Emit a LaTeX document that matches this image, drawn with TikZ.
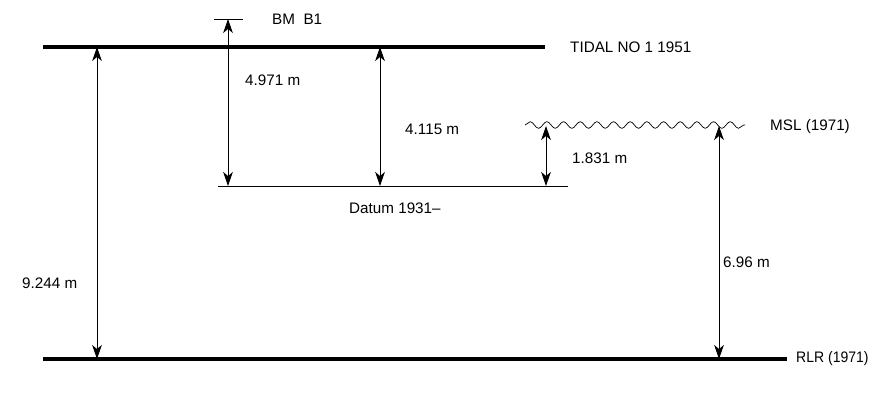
\documentclass[tikz,border=0pt]{standalone}
\usepackage{fontspec}
\setmainfont{Liberation Sans}
\usetikzlibrary{arrows.meta,positioning,calc,decorations.pathmorphing}

\begin{document}
\begin{tikzpicture}[x=0.03cm, y=-0.03cm, >={Stealth[length=4.2mm,width=2.9mm,inset=1.2mm]},
  level/.style={line width=2.6pt},
  thinlevel/.style={line width=0.7pt},
  dim/.style={<->, line width=0.7pt},
  lbl/.style={anchor=west, inner sep=0pt, font=\fontsize{13}{15}\selectfont}]
\useasboundingbox (0,0) rectangle (875,400);

% Levels
\coordinate (tidalL) at (43,47);
\coordinate (tidalR) at (545,47);
\draw[level] (tidalL) -- (tidalR);
\node[lbl] (tidal) at (570,47) {TIDAL NO 1 1951};

\coordinate (rlrL) at (43,359);
\coordinate (rlrR) at (787,359);
\draw[level] (rlrL) -- (rlrR);
\node[lbl, xscale=0.92] (rlr) at (796,359) {RLR (1971)};

\coordinate (datL) at (218,186);
\coordinate (datR) at (568,186);
\draw[thinlevel] (datL) -- (datR);
\node[lbl] (datum) at (349,208) {Datum 1931--};

\coordinate (mslL) at (525,125);
\coordinate (mslR) at (745,125);
\draw[line width=0.6pt, decorate, decoration={snake, amplitude=0.1cm, segment length=0.5cm}] (mslL) -- (mslR);
\node[lbl] (msl) at (770,127) {MSL (1971)};

% Benchmark
\coordinate (bmL) at (214,19);
\coordinate (bmR) at (243,19);
\draw[thinlevel] (bmL) -- (bmR);
\node[lbl] (bm) at (272,19) {BM\ \ B1};

% Dimensions
\draw[dim] (97,47) -- (97,359);
\node[lbl] at (22,283) {9.244 m};
\draw[dim] (228,19) -- (228,186);
\node[lbl] at (245,80) {4.971 m};
\draw[dim] (380,47) -- (380,186);
\node[lbl] at (405,129) {4.115 m};
\draw[dim] (546,126) -- (546,186);
\node[lbl] at (572,158) {1.831 m};
\draw[dim] (719,126) -- (719,359);
\node[lbl] at (723,262) {6.96 m};
\end{tikzpicture}
\end{document}
